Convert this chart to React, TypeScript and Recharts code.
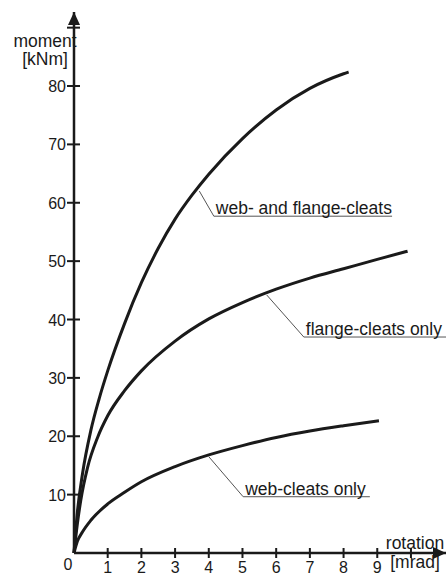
import { LineChart, Line, XAxis, YAxis, ReferenceLine, ReferenceDot } from 'recharts';

// rotation [mrad] / moment [kNm]
const webFlangeRot = [0, 0.1, 0.25, 0.5, 0.75, 1, 1.5, 2, 2.5, 3, 3.5, 4, 5, 6, 7, 8, 8.15];
const webFlangeMom = [0, 7, 13.5, 21, 26.5, 31.2, 39.3, 46.3, 52.2, 57.2, 61.3, 64.9, 71, 75.9, 79.6, 82.1, 82.4];

const flangeRot = [0, 0.1, 0.2, 0.4, 0.7, 1, 1.5, 2, 3, 4, 5, 6, 7, 8, 9, 9.9];
const flangeMom = [0, 5, 9, 14.6, 19.8, 23.5, 27.8, 31.2, 36.3, 40.1, 42.9, 45.2, 47.1, 48.7, 50.3, 51.7];

const webRot = [0, 0.1, 0.25, 0.5, 1, 1.5, 2, 3, 4, 5, 6, 7, 8, 9.05];
const webMom = [0, 2, 3.6, 5.6, 8.4, 10.4, 12.2, 14.8, 16.8, 18.4, 19.8, 20.9, 21.8, 22.65];

const xTicks = [0, 1, 2, 3, 4, 5, 6, 7, 8, 9, 10];
const xTickLabels = ['0', '1', '2', '3', '4', '5', '6', '7', '8', '9', ''];
const yTicks = [10, 20, 30, 40, 50, 60, 70, 80, 90];
const yTickLabels = ['10', '20', '30', '40', '50', '60', '70', '80', ''];

// leader lines: curve point -> elbow -> end of underline
const annotations = [
  { text: 'web- and flange-cleats', from: [3.72, 62.0], elbow: [4.15, 57.7], endX: 9.44 },
  { text: 'flange-cleats only', from: [5.72, 44.2], elbow: [6.82, 37.0], endX: 11.04 },
  { text: 'web-cleats only', from: [4.0, 16.5], elbow: [5.02, 9.64], endX: 8.78 },
];

const zip = (xs: number[], ys: number[]) => xs.map((x, i) => ({ x, m: ys[i] }));
const webFlange = zip(webFlangeRot, webFlangeMom);
const flange = zip(flangeRot, flangeMom);
const web = zip(webRot, webMom);

const ink = '#1a1a1a';
const font = '"Liberation Sans", Arial, sans-serif';

const XTick = (props: any) => {
  const { x, y, payload } = props;
  const i = xTicks.indexOf(payload.value);
  if (payload.value === 0) {
    return <text x={x - 6} y={y + 17} textAnchor="middle" fontSize={16} fill={ink}>{xTickLabels[i]}</text>;
  }
  return (
    <g>
      <line x1={x} x2={x} y1={y - 5} y2={y + 5} stroke={ink} strokeWidth={2} />
      <text x={x} y={y + 20} textAnchor="middle" fontSize={16} fill={ink}>{xTickLabels[i]}</text>
    </g>
  );
};

const YTick = (props: any) => {
  const { x, y, payload } = props;
  const i = yTicks.indexOf(payload.value);
  return (
    <g>
      <line x1={x - 7} x2={x + 6} y1={y} y2={y} stroke={ink} strokeWidth={2} />
      <text x={x - 8} y={y + 6} textAnchor="end" fontSize={16} fill={ink}>{yTickLabels[i]}</text>
    </g>
  );
};

export default function App() {
  return (
    <div style={{ position: 'absolute', left: 0, top: 0, width: 446, height: 575, background: '#fff' }}>
      <svg width={0} height={0} style={{ position: 'absolute' }}>
        <defs>
          <marker id="arrow" markerUnits="userSpaceOnUse" markerWidth={14} markerHeight={12}
            refX={13} refY={6} orient="auto-start-reverse">
            <path d="M0,0 L13,6 L0,12 z" fill={ink} />
          </marker>
        </defs>
      </svg>
      <LineChart width={446} height={575} margin={{ top: 12, right: 0, bottom: 0, left: 0 }}
        style={{ fontFamily: font }}>
        <XAxis dataKey="x" type="number" domain={[0, 11.04]} ticks={xTicks} interval={0}
          height={22} tickSize={0} tickMargin={0} tick={<XTick />}
          axisLine={{ stroke: ink, strokeWidth: 2.5, markerEnd: 'url(#arrow)' }}
          label={{
            content: (p: any) => {
              const vb = p.viewBox;
              const cx = vb.x + vb.width - 31;
              return (
                <text x={cx} y={vb.y - 4} textAnchor="middle" fontSize={17.5} fill={ink}>
                  <tspan x={cx}>rotation</tspan>
                  <tspan x={cx} dy={19}>[mrad]</tspan>
                </text>
              );
            },
          }} />
        <YAxis type="number" domain={[0, 92.68]} ticks={yTicks} interval={0} width={74}
          tickSize={0} tickMargin={0} tick={<YTick />}
          axisLine={{ stroke: ink, strokeWidth: 2.5, markerStart: 'url(#arrow)' }}
          label={{
            content: (p: any) => {
              const vb = p.viewBox;
              const cx = vb.x + 45;
              return (
                <text x={cx} y={vb.y + 35} textAnchor="middle" fontSize={17.5} fill={ink}>
                  <tspan x={cx}>moment</tspan>
                  <tspan x={cx} dy={18}>[kNm]</tspan>
                </text>
              );
            },
          }} />
        {annotations.map((a) => (
          <ReferenceLine key={a.text + '1'} segment={[{ x: a.from[0], y: a.from[1] }, { x: a.elbow[0], y: a.elbow[1] }]}
            stroke="#555" strokeWidth={1} ifOverflow="visible" />
        ))}
        {annotations.map((a) => (
          <ReferenceLine key={a.text + '2'} segment={[{ x: a.elbow[0], y: a.elbow[1] }, { x: a.endX, y: a.elbow[1] }]}
            stroke="#555" strokeWidth={1} ifOverflow="visible" />
        ))}
        {annotations.map((a) => (
          <ReferenceDot key={a.text + '3'} x={a.elbow[0]} y={a.elbow[1]} r={0} ifOverflow="visible"
            shape={(p: any) => (
              <text x={p.cx + 2} y={p.cy - 2} fontSize={17.5} fill={ink} fontFamily={font}>{a.text}</text>
            )} />
        ))}
        <Line data={webFlange} dataKey="m" type="monotone" stroke={ink} strokeWidth={3} dot={false} isAnimationActive={false} />
        <Line data={flange} dataKey="m" type="monotone" stroke={ink} strokeWidth={3} dot={false} isAnimationActive={false} />
        <Line data={web} dataKey="m" type="monotone" stroke={ink} strokeWidth={3} dot={false} isAnimationActive={false} />
      </LineChart>
    </div>
  );
}
